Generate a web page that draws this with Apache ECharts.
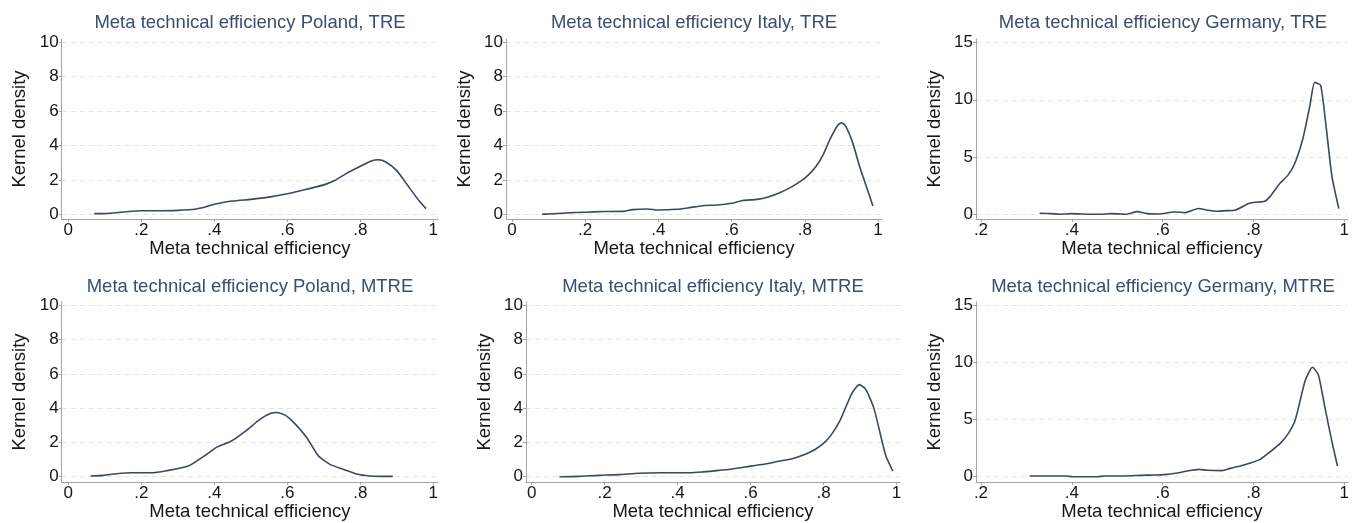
<!DOCTYPE html>
<html>
<head>
<meta charset="utf-8">
<script src="https://cdn.jsdelivr.net/npm/echarts@6/dist/echarts.min.js"></script>
<style>
html,body{margin:0;padding:0;background:#fff;}
#chart{width:1352px;height:523px;}
</style>
</head>
<body>
<div id="chart"></div>
<script>
// ---- Data ----
const titles = [
  'Meta technical efficiency Poland, TRE',
  'Meta technical efficiency Italy, TRE',
  'Meta technical efficiency Germany, TRE',
  'Meta technical efficiency Poland, MTRE',
  'Meta technical efficiency Italy, MTRE',
  'Meta technical efficiency Germany, MTRE'
];
const xAxisTitle = 'Meta technical efficiency';
const yAxisTitle = 'Kernel density';

const xTicksFrom0 = [0, 0.2, 0.4, 0.6, 0.8, 1];
const xTicksFrom02 = [0.2, 0.4, 0.6, 0.8, 1];
const yTicks10 = [0, 2, 4, 6, 8, 10];
const yTicks15 = [0, 5, 10, 15];

const polandTreX = [0.071,0.1,0.15,0.2,0.25,0.3,0.35,0.38,0.4,0.45,0.5,0.55,0.6,0.65,0.7,0.73,0.76,0.8,0.83,0.85,0.87,0.9,0.93,0.96,0.98];
const polandTreY = [0.04,0.04,0.13,0.21,0.21,0.23,0.31,0.46,0.58,0.77,0.87,1.0,1.19,1.44,1.71,1.96,2.35,2.79,3.1,3.17,3.04,2.54,1.67,0.81,0.33];

const italyTreX = [0.082,0.1,0.15,0.2,0.25,0.3,0.33,0.37,0.4,0.45,0.48,0.52,0.56,0.6,0.63,0.67,0.7,0.73,0.76,0.79,0.81,0.83,0.85,0.87,0.89,0.9,0.91,0.93,0.95,0.97,0.986];
const italyTreY = [0,0.02,0.08,0.12,0.16,0.17,0.27,0.31,0.25,0.29,0.37,0.5,0.54,0.64,0.8,0.87,1.01,1.24,1.55,1.94,2.29,2.76,3.46,4.41,5.18,5.32,5.18,4.21,2.76,1.5,0.49];

const germanyTreX = [0.329,0.355,0.373,0.398,0.420,0.439,0.464,0.486,0.508,0.519,0.544,0.566,0.592,0.625,0.650,0.679,0.697,0.719,0.741,0.759,0.789,0.803,0.825,0.836,0.858,0.876,0.891,0.909,0.924,0.935,0.948,0.960,0.973,0.988];
const germanyTreY = [0.09,0.06,0,0.06,0.03,0,0,0.06,0.03,0,0.23,0.06,0.03,0.2,0.15,0.5,0.38,0.26,0.32,0.35,0.94,1.05,1.14,1.52,2.69,3.42,4.44,6.64,9.42,11.52,11.26,7.66,3.27,0.5];

const polandMtreX = [0.061,0.096,0.132,0.174,0.228,0.269,0.329,0.370,0.406,0.447,0.489,0.525,0.553,0.571,0.594,0.616,0.653,0.685,0.717,0.753,0.790,0.826,0.854,0.889];
const polandMtreY = [0.04,0.08,0.17,0.23,0.23,0.35,0.62,1.17,1.71,2.08,2.72,3.34,3.69,3.75,3.59,3.2,2.29,1.22,0.72,0.43,0.16,0.04,0.02,0.02];

const italyMtreX = [0.076,0.128,0.183,0.238,0.293,0.348,0.430,0.467,0.512,0.549,0.604,0.640,0.677,0.714,0.750,0.778,0.805,0.823,0.846,0.878,0.898,0.915,0.938,0.970,0.990];
const italyMtreY = [0,0.02,0.08,0.12,0.2,0.23,0.23,0.27,0.37,0.45,0.63,0.74,0.9,1.05,1.31,1.6,2.05,2.5,3.32,4.88,5.37,5.12,4.0,1.27,0.33];

const germanyMtreX = [0.307,0.355,0.388,0.402,0.457,0.472,0.512,0.552,0.581,0.603,0.632,0.654,0.680,0.698,0.731,0.749,0.771,0.793,0.815,0.837,0.859,0.877,0.892,0.914,0.930,0.943,0.957,0.972,0.985];
const germanyMtreY = [0.06,0.06,0.06,0,0,0.06,0.06,0.12,0.15,0.18,0.32,0.5,0.64,0.56,0.53,0.73,0.94,1.2,1.52,2.19,2.92,3.8,4.97,8.42,9.59,8.92,6.14,3.22,0.94];

// ---- Layout (pixel geometry of each panel) ----
const layouts = [
  {box:{l:61.7,r:438,t:39,b:219},  tick:{x0:68.3,x1:433.3,y0:214.3,y1:42.3}, titleX:250, titleTop:13},
  {box:{l:506,r:882,t:39,b:219},   tick:{x0:512,x1:878,y0:214.3,y1:42.3},   titleX:694, titleTop:13},
  {box:{l:976,r:1350,t:39,b:219},  tick:{x0:981,x1:1346.5,y0:214.3,y1:42.5}, titleX:1163, titleTop:13},
  {box:{l:61.7,r:438,t:302,b:482}, tick:{x0:68.3,x1:433.3,y0:476.7,y1:305.3}, titleX:250, titleTop:277},
  {box:{l:526,r:900,t:302,b:482},  tick:{x0:531.7,x1:896.5,y0:476.7,y1:305.3}, titleX:713, titleTop:277},
  {box:{l:976,r:1350,t:302,b:482}, tick:{x0:981,x1:1346.5,y0:476.7,y1:305.5}, titleX:1163, titleTop:277}
];

const seriesX = [polandTreX, italyTreX, germanyTreX, polandMtreX, italyMtreX, germanyMtreX];
const seriesY = [polandTreY, italyTreY, germanyTreY, polandMtreY, italyMtreY, germanyMtreY];
const xTickSets = [xTicksFrom0, xTicksFrom0, xTicksFrom02, xTicksFrom0, xTicksFrom0, xTicksFrom02];
const yTickSets = [yTicks10, yTicks10, yTicks15, yTicks10, yTicks10, yTicks15];

const FONT = '"Liberation Sans", Arial, Helvetica, sans-serif';
const titleColor = '#3b4d72';
const lineColor = '#3a4868';
const axisColor = '#a4a4a4';
const textColor = '#161616';

function fmtTick(v) {
  let s = String(+v.toFixed(4));
  return s.replace(/^0\./, '.');
}

const grids = [], xAxes = [], yAxes = [], series = [], titleOpts = [];
layouts.forEach((L, i) => {
  const xt = xTickSets[i], yt = yTickSets[i];
  const xUnit = (L.tick.x1 - L.tick.x0) / (xt[xt.length-1] - xt[0]);
  const yUnit = (L.tick.y0 - L.tick.y1) / (yt[yt.length-1] - yt[0]);
  const xmin = xt[0] - (L.tick.x0 - L.box.l) / xUnit;
  const xmax = xt[xt.length-1] + (L.box.r - L.tick.x1) / xUnit;
  const ymin = yt[0] - (L.box.b - L.tick.y0) / yUnit;
  const ymax = yt[yt.length-1] + (L.tick.y1 - L.box.t) / yUnit;

  grids.push({left: L.box.l, top: L.box.t, width: L.box.r - L.box.l, height: L.box.b - L.box.t, containLabel: false});

  xAxes.push({
    type: 'value', gridIndex: i, min: xmin, max: xmax,
    name: xAxisTitle, nameLocation: 'middle', nameGap: 20,
    nameTextStyle: {fontFamily: FONT, fontSize: 18.5, color: textColor},
    axisLine: {show: true, onZero: false, lineStyle: {color: axisColor, width: 1}},
    axisTick: {show: true, length: 3, lineStyle: {color: axisColor}, customValues: xt},
    axisLabel: {show: true, margin: 3, fontFamily: FONT, fontSize: 17, color: textColor, customValues: xt, formatter: fmtTick},
    splitLine: {show: false}
  });

  yAxes.push({
    type: 'value', gridIndex: i, min: ymin, max: ymax,
    name: yAxisTitle, nameLocation: 'middle', nameGap: 32,
    nameTextStyle: {fontFamily: FONT, fontSize: 18.5, color: textColor},
    axisLine: {show: true, onZero: false, lineStyle: {color: axisColor, width: 1}},
    axisTick: {show: true, length: 3, lineStyle: {color: axisColor}, customValues: yt},
    axisLabel: {show: true, margin: 3, fontFamily: FONT, fontSize: 17, color: textColor, customValues: yt, formatter: fmtTick},
    splitLine: {show: true, lineStyle: {color: '#e4e4e4', type: [5, 4], width: 1}}
  });

  series.push({
    type: 'line', xAxisIndex: i, yAxisIndex: i,
    data: seriesX[i].map((x, k) => [x, seriesY[i][k]]),
    showSymbol: false, smooth: 0.2, animation: false,
    lineStyle: {color: lineColor, width: 1.6}
  });

  titleOpts.push({
    text: titles[i], left: L.titleX, top: L.titleTop, textAlign: 'center', padding: 0,
    textStyle: {fontFamily: FONT, fontSize: 18.5, fontWeight: 'normal', color: titleColor}
  });
});

const chart = echarts.init(document.getElementById('chart'), null, {renderer: 'canvas'});
chart.setOption({
  backgroundColor: '#ffffff',
  animation: false,
  title: titleOpts,
  grid: grids,
  xAxis: xAxes,
  yAxis: yAxes,
  series: series
});
</script>
</body>
</html>
